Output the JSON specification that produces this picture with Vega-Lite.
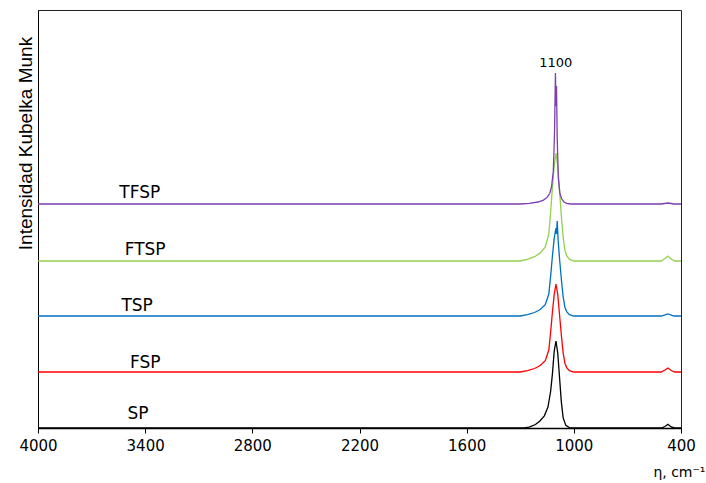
{
  "$schema": "https://vega.github.io/schema/vega-lite/v6.json",
  "width": 643,
  "height": 418,
  "autosize": {"type": "none"},
  "padding": {"left": 38, "top": 10, "right": 25, "bottom": 55},
  "background": "white",
  "config": {"view": {"stroke": "#222", "strokeWidth": 1}},
  "datasets": {
    "spectra": [
      {"s": "SP", "w": 4000, "v": 0}, {"s": "SP", "w": 1280, "v": 0}, {"s": "SP", "w": 1250, "v": 0.9}, {"s": "SP", "w": 1215, "v": 3.5}, {"s": "SP", "w": 1190, "v": 7}, {"s": "SP", "w": 1165, "v": 12.2}, {"s": "SP", "w": 1145, "v": 20.9}, {"s": "SP", "w": 1130, "v": 36.5}, {"s": "SP", "w": 1120, "v": 53.9}, {"s": "SP", "w": 1110, "v": 76.6}, {"s": "SP", "w": 1100, "v": 87}, {"s": "SP", "w": 1090, "v": 74.8}, {"s": "SP", "w": 1080, "v": 50.5}, {"s": "SP", "w": 1070, "v": 26.1}, {"s": "SP", "w": 1060, "v": 10.4}, {"s": "SP", "w": 1045, "v": 2.6}, {"s": "SP", "w": 1025, "v": 0.4}, {"s": "SP", "w": 1005, "v": 0}, {"s": "SP", "w": 510, "v": 0}, {"s": "SP", "w": 490, "v": 1.5}, {"s": "SP", "w": 473, "v": 3.7}, {"s": "SP", "w": 455, "v": 1}, {"s": "SP", "w": 435, "v": 0}, {"s": "SP", "w": 400, "v": 0},
      {"s": "FSP", "w": 4000, "v": 56}, {"s": "FSP", "w": 1300, "v": 56}, {"s": "FSP", "w": 1260, "v": 57.3}, {"s": "FSP", "w": 1220, "v": 59.5}, {"s": "FSP", "w": 1190, "v": 62.2}, {"s": "FSP", "w": 1160, "v": 67.4}, {"s": "FSP", "w": 1140, "v": 78}, {"s": "FSP", "w": 1130, "v": 95.6}, {"s": "FSP", "w": 1120, "v": 115.8}, {"s": "FSP", "w": 1110, "v": 133.4}, {"s": "FSP", "w": 1100, "v": 144}, {"s": "FSP", "w": 1090, "v": 133.4}, {"s": "FSP", "w": 1080, "v": 113.2}, {"s": "FSP", "w": 1070, "v": 93}, {"s": "FSP", "w": 1060, "v": 75.4}, {"s": "FSP", "w": 1050, "v": 64.8}, {"s": "FSP", "w": 1040, "v": 60.4}, {"s": "FSP", "w": 1025, "v": 57.3}, {"s": "FSP", "w": 1000, "v": 56}, {"s": "FSP", "w": 510, "v": 56}, {"s": "FSP", "w": 490, "v": 58}, {"s": "FSP", "w": 473, "v": 60}, {"s": "FSP", "w": 455, "v": 57.5}, {"s": "FSP", "w": 435, "v": 56}, {"s": "FSP", "w": 400, "v": 56},
      {"s": "TSP", "w": 4000, "v": 112}, {"s": "TSP", "w": 1300, "v": 112}, {"s": "TSP", "w": 1260, "v": 113.3}, {"s": "TSP", "w": 1220, "v": 115.5}, {"s": "TSP", "w": 1190, "v": 118.2}, {"s": "TSP", "w": 1160, "v": 123.4}, {"s": "TSP", "w": 1140, "v": 134}, {"s": "TSP", "w": 1130, "v": 151.6}, {"s": "TSP", "w": 1120, "v": 171.8}, {"s": "TSP", "w": 1110, "v": 189.4}, {"s": "TSP", "w": 1104, "v": 196}, {"s": "TSP", "w": 1100, "v": 200}, {"s": "TSP", "w": 1097, "v": 194}, {"s": "TSP", "w": 1093, "v": 207}, {"s": "TSP", "w": 1088, "v": 188}, {"s": "TSP", "w": 1080, "v": 169.2}, {"s": "TSP", "w": 1070, "v": 149}, {"s": "TSP", "w": 1060, "v": 131.4}, {"s": "TSP", "w": 1050, "v": 120.8}, {"s": "TSP", "w": 1040, "v": 116.4}, {"s": "TSP", "w": 1025, "v": 113.3}, {"s": "TSP", "w": 1000, "v": 112}, {"s": "TSP", "w": 510, "v": 112}, {"s": "TSP", "w": 473, "v": 114}, {"s": "TSP", "w": 440, "v": 112}, {"s": "TSP", "w": 400, "v": 112},
      {"s": "FTSP", "w": 4000, "v": 167}, {"s": "FTSP", "w": 1300, "v": 167}, {"s": "FTSP", "w": 1260, "v": 168.6}, {"s": "FTSP", "w": 1220, "v": 171.3}, {"s": "FTSP", "w": 1190, "v": 174.6}, {"s": "FTSP", "w": 1160, "v": 181}, {"s": "FTSP", "w": 1140, "v": 194}, {"s": "FTSP", "w": 1130, "v": 215.6}, {"s": "FTSP", "w": 1120, "v": 240.4}, {"s": "FTSP", "w": 1110, "v": 262}, {"s": "FTSP", "w": 1100, "v": 275}, {"s": "FTSP", "w": 1090, "v": 262}, {"s": "FTSP", "w": 1080, "v": 237.2}, {"s": "FTSP", "w": 1070, "v": 212.4}, {"s": "FTSP", "w": 1060, "v": 190.8}, {"s": "FTSP", "w": 1050, "v": 177.8}, {"s": "FTSP", "w": 1040, "v": 172.4}, {"s": "FTSP", "w": 1025, "v": 168.6}, {"s": "FTSP", "w": 1000, "v": 167}, {"s": "FTSP", "w": 510, "v": 167}, {"s": "FTSP", "w": 490, "v": 169.5}, {"s": "FTSP", "w": 473, "v": 172}, {"s": "FTSP", "w": 455, "v": 169}, {"s": "FTSP", "w": 435, "v": 167}, {"s": "FTSP", "w": 400, "v": 167},
      {"s": "TFSP", "w": 4000, "v": 224}, {"s": "TFSP", "w": 1300, "v": 224}, {"s": "TFSP", "w": 1250, "v": 224.7}, {"s": "TFSP", "w": 1200, "v": 226}, {"s": "TFSP", "w": 1170, "v": 227.9}, {"s": "TFSP", "w": 1150, "v": 230.6}, {"s": "TFSP", "w": 1135, "v": 234.5}, {"s": "TFSP", "w": 1125, "v": 241}, {"s": "TFSP", "w": 1115, "v": 256.8}, {"s": "TFSP", "w": 1108, "v": 296}, {"s": "TFSP", "w": 1103, "v": 355}, {"s": "TFSP", "w": 1100, "v": 322}, {"s": "TFSP", "w": 1097, "v": 341.9}, {"s": "TFSP", "w": 1093, "v": 289.5}, {"s": "TFSP", "w": 1087, "v": 250.2}, {"s": "TFSP", "w": 1078, "v": 234.5}, {"s": "TFSP", "w": 1068, "v": 229.2}, {"s": "TFSP", "w": 1055, "v": 226}, {"s": "TFSP", "w": 1040, "v": 224.7}, {"s": "TFSP", "w": 1020, "v": 224}, {"s": "TFSP", "w": 510, "v": 224}, {"s": "TFSP", "w": 473, "v": 225}, {"s": "TFSP", "w": 440, "v": 224}, {"s": "TFSP", "w": 400, "v": 224}
    ],
    "labels": [
      {"label": "TFSP", "w": 3430, "v": 235},
      {"label": "FTSP", "w": 3400, "v": 178},
      {"label": "TSP", "w": 3445, "v": 122},
      {"label": "FSP", "w": 3400, "v": 65},
      {"label": "SP", "w": 3440, "v": 14}
    ],
    "peak": [{"label": "1100", "w": 1101, "v": 365}]
  },
  "encoding": {
    "x": {
      "field": "w", "type": "quantitative",
      "scale": {"domain": [400, 4000], "reverse": true, "nice": false, "zero": false},
      "axis": {
        "values": [4000, 3400, 2800, 2200, 1600, 1000, 400],
        "format": "d",
        "grid": false, "domainColor": "#000", "domainWidth": 1.5,
        "tickColor": "#000", "tickSize": 5, "tickWidth": 1,
        "labelFont": "DejaVu Sans", "labelFontSize": 15, "labelColor": "#000", "labelPadding": 5,
        "labelFlush": false,
        "title": "η, cm⁻¹", "titleFont": "DejaVu Sans", "titleFontSize": 14, "titleFontWeight": "normal",
        "titleColor": "#000", "titleX": 667, "titleY": 48, "titleAlign": "right", "titleBaseline": "alphabetic"
      }
    },
    "y": {
      "field": "v", "type": "quantitative",
      "scale": {"domain": [0, 418], "nice": false, "zero": true},
      "axis": {
        "ticks": false, "labels": false, "grid": false, "domainColor": "#000", "domainWidth": 1,
        "title": "Intensidad Kubelka Munk", "titleFont": "Liberation Sans", "titleFontSize": 19,
        "titleFontWeight": "normal", "titleColor": "#000", "titleAngle": -90,
        "titleX": -7, "titleY": 133, "titleAlign": "center", "titleBaseline": "alphabetic"
      }
    }
  },
  "layer": [
    {
      "data": {"name": "spectra"},
      "mark": {"type": "line", "strokeWidth": 1.3, "clip": true},
      "encoding": {
        "color": {
          "field": "s", "type": "nominal",
          "scale": {"domain": ["SP", "FSP", "TSP", "FTSP", "TFSP"], "range": ["#000000", "#ff0000", "#0070c0", "#92d050", "#7b3fb0"]},
          "legend": null
        },
        "detail": {"field": "s"}
      }
    },
    {
      "data": {"name": "labels"},
      "mark": {"type": "text", "font": "DejaVu Sans", "fontSize": 17, "color": "#000", "align": "center", "baseline": "middle"},
      "encoding": {"text": {"field": "label"}}
    },
    {
      "data": {"name": "peak"},
      "mark": {"type": "text", "font": "DejaVu Sans", "fontSize": 13, "color": "#000", "align": "center", "baseline": "middle"},
      "encoding": {"text": {"field": "label"}}
    }
  ]
}
